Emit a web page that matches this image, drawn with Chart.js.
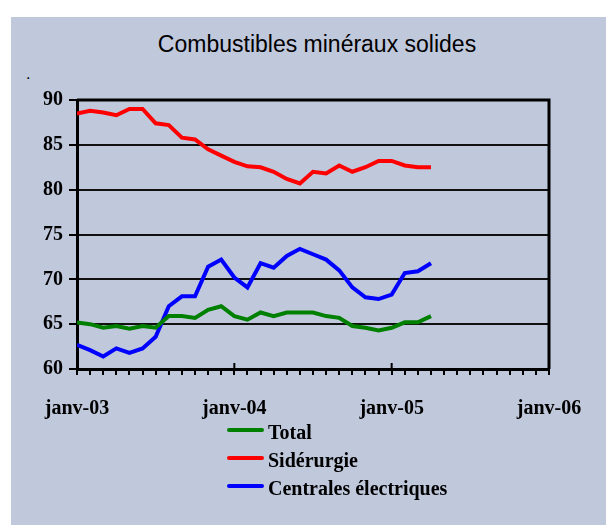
<!DOCTYPE html>
<html>
<head>
<meta charset="utf-8">
<script src="https://cdn.jsdelivr.net/npm/chart.js@4.4.1/dist/chart.umd.min.js"></script>
<style>
  body { margin: 0; background: #fff; width: 606px; height: 525px; overflow: hidden; position: relative; }
  #panel { position: absolute; left: 11px; top: 17px; width: 595px; height: 508px; background: #c0c8dc; }
  #title { position: absolute; left: 0; width: 634px; top: 31px; text-align: center;
           font: 23px "Liberation Sans", Arial, sans-serif; color: #000; }
  #dot { position: absolute; left: 26px; top: 65px; font: 16px "Liberation Sans", sans-serif; }
  canvas { position: absolute; left: 0; top: 0; }
  .leg-line { position: absolute; left: 227px; width: 37px; height: 4px; border-radius: 2px; }
  .leg-text { position: absolute; left: 268px; font: bold 20px "Liberation Serif", "Times New Roman", serif; line-height: 20px; color: #000; }
</style>
</head>
<body>
<div id="panel"></div>
<div id="title">Combustibles minéraux solides</div>
<div id="dot">.</div>
<canvas id="chart" width="606" height="525"></canvas>
<div id="legend"></div>

<script>
// --- DONNÉES ---
const yearLabels = ['janv-03', 'janv-04', 'janv-05', 'janv-06'];
const seriesNames = ['Total', 'Sidérurgie', 'Centrales électriques'];
const seriesColors = ['#008000', '#ff0000', '#0000ff'];

// mensuel, janv-03 -> avr-05
const total = [65.2, 65.0, 64.6, 64.8, 64.5, 64.8, 64.6, 65.9, 65.9, 65.7, 66.6, 67.0,
               65.9, 65.5, 66.3, 65.9, 66.3, 66.3, 66.3, 65.9, 65.7, 64.8, 64.6, 64.3,
               64.6, 65.2, 65.2, 65.9];
const siderurgie = [88.5, 88.8, 88.6, 88.3, 89.0, 89.0, 87.4, 87.2, 85.8, 85.6, 84.5, 83.8,
                    83.1, 82.6, 82.5, 82.0, 81.2, 80.7, 82.0, 81.8, 82.7, 82.0, 82.5, 83.2,
                    83.2, 82.7, 82.5, 82.5];
const centrales = [62.7, 62.1, 61.4, 62.3, 61.8, 62.3, 63.6, 67.0, 68.1, 68.1, 71.4, 72.2,
                   70.2, 69.1, 71.8, 71.3, 72.6, 73.4, 72.8, 72.2, 71.0, 69.1, 68.0, 67.8,
                   68.3, 70.7, 70.9, 71.8];

const allSeries = [total, siderurgie, centrales];
const tickFont = { family: "'Liberation Serif', 'Times New Roman', serif", size: 20, weight: 'bold' };

// --- LÉGENDE HTML ---
const legend = document.getElementById('legend');
seriesNames.forEach((name, i) => {
    const line = document.createElement('div');
    line.className = 'leg-line';
    line.style.background = seriesColors[i];
    line.style.top = (428 + i * 28) + 'px';
    legend.appendChild(line);
    const txt = document.createElement('div');
    txt.className = 'leg-text';
    txt.style.top = (422 + i * 28) + 'px';
    txt.innerText = name;
    legend.appendChild(txt);
});

// cadre + grandes graduations annuelles
const framePlugin = {
    id: 'frame',
    afterDatasetsDraw(chart) {
        const { ctx, chartArea, scales } = chart;
        ctx.save();
        ctx.strokeStyle = '#000';
        ctx.lineWidth = 3;
        ctx.beginPath();
        ctx.moveTo(chartArea.left, chartArea.top);
        ctx.lineTo(chartArea.right, chartArea.top);
        ctx.lineTo(chartArea.right, chartArea.bottom);
        ctx.stroke();
        ctx.lineWidth = 2;
        for (let i = 1; i < yearLabels.length; i++) {
            const x = scales.x.getPixelForValue(i * 12);
            ctx.beginPath();
            ctx.moveTo(x, chartArea.bottom);
            ctx.lineTo(x, chartArea.bottom - 6);
            ctx.stroke();
        }
        ctx.restore();
    }
};

new Chart(document.getElementById('chart'), {
    type: 'line',
    data: {
        datasets: allSeries.map((s, i) => ({
            label: seriesNames[i],
            data: s.map((v, m) => ({ x: m, y: v })),
            borderColor: seriesColors[i],
            borderWidth: 4,
            pointRadius: 0,
            tension: 0,
            fill: false
        }))
    },
    options: {
        responsive: false,
        animation: false,
        layout: { padding: { left: 0, top: 100, right: 57, bottom: 106 } },
        plugins: { legend: { display: false }, title: { display: false }, tooltip: { enabled: false } },
        scales: {
            x: {
                type: 'linear',
                min: 0, max: 36,
                afterFit: s => { s.height = 50; },
                border: { color: '#000', width: 3 },
                grid: { drawOnChartArea: false, color: '#000', lineWidth: 2, tickLength: 6 },
                ticks: {
                    stepSize: 1, autoSkip: false, maxTicksLimit: 40, maxRotation: 0,
                    padding: 22, color: '#000', font: tickFont,
                    callback: v => (v % 12 === 0 ? yearLabels[v / 12] : '')
                }
            },
            y: {
                min: 60, max: 90,
                afterFit: s => { s.width = 77; },
                border: { color: '#000', width: 3 },
                grid: {
                    color: c => (c.tick && c.tick.value % 5 === 0 ? '#111' : 'rgba(0,0,0,0)'),
                    tickColor: '#000',
                    lineWidth: 2,
                    tickLength: 8
                },
                ticks: {
                    stepSize: 2.5, padding: 6, color: '#000', font: tickFont,
                    callback: v => (v % 5 === 0 ? v : '')
                }
            }
        }
    },
    plugins: [framePlugin]
});
</script>
</body>
</html>
